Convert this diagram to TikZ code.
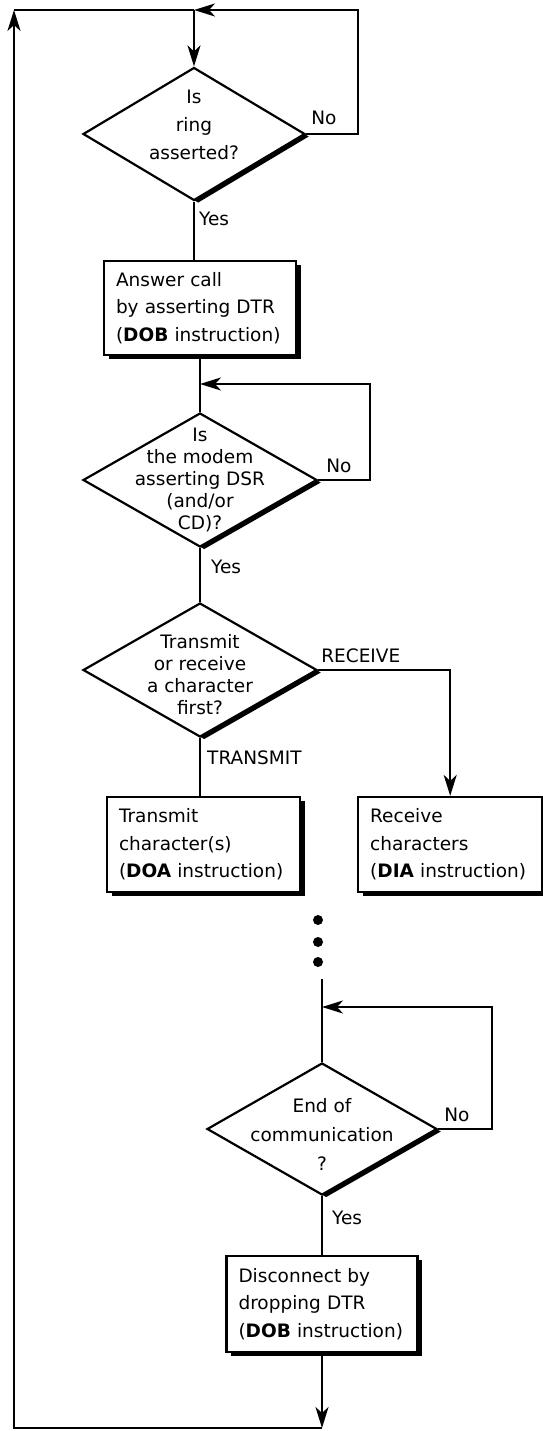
\documentclass[tikz,border=0pt]{standalone}
\usepackage{fontspec}
\setmainfont{DejaVu Sans}
\usetikzlibrary{shapes.geometric,arrows.meta,positioning,shadows}
\tikzstyle{decision} = [draw,line width=2.2pt,diamond,inner sep=0,fill=white,minimum width=234pt,minimum height=134pt,drop shadow={opacity=1,fill=black,shadow xshift=4.2pt,shadow yshift=-2.5pt}]
\tikzstyle{question} = [align=center,inner sep=0,font=\fontsize{18.5}{22}\selectfont]
\tikzstyle{process} = [draw,line width=2.2pt,rectangle,fill=white,inner xsep=12pt,align=left,font=\fontsize{18.5}{27.5}\selectfont,drop shadow={opacity=1,fill=black,shadow xshift=4.5pt,shadow yshift=-4pt}]
\tikzstyle{branch} = [anchor=base west,inner sep=0,font=\fontsize{18.5}{22}\selectfont]
\tikzstyle{wire} = [line width=2.2pt]
\tikzstyle{flow} = [wire,-{Stealth[length=21pt,width=13pt,inset=6pt]}]
\tikzstyle{dot} = [circle,fill,inner sep=0,minimum size=10pt]

\begin{document}
\begin{tikzpicture}[x=1pt,y=-1pt]
  \useasboundingbox (0,0) rectangle (542,1431);

  % wait for the ring, then answer
  \node[decision,minimum width=222pt,minimum height=133pt] (ring) at (194,134) {};
  \node[question,font=\fontsize{18.5}{28}\selectfont,yshift=9pt] (ringq) at (ring) {Is\\ring\\asserted?};
  \node[process,text width=168pt,minimum height=94pt] (answer) at (200,308) {Answer call\\by asserting DTR\\(\textbf{DOB} instruction)};

  % wait for the modem
  \node[decision] (dsr) at (200,480) {};
  \node[question] (dsrq) at (dsr) {Is\\the modem\\asserting DSR\\(and/or\\CD)?};

  % transmit or receive
  \node[decision] (txrx) at (200,670) {};
  \node[question,yshift=-5pt] (txrxq) at (txrx) {Transmit\\or receive\\a character\\first?};
  \node[process,text width=169pt,minimum height=95pt] (tx) at (203.5,844.5) {Transmit\\character(s)\\(\textbf{DOA} instruction)};
  \node[process,text width=160pt,minimum height=95pt,right=56pt of tx] (rx) {Receive\\characters\\(\textbf{DIA} instruction)};
  \foreach \y [count=\i] in {920,942,962}
    \node[dot] (dot\i) at (318,\y) {};

  % hang up
  \node[decision,minimum width=230pt,minimum height=132pt] (eoc) at (322,1129) {};
  \node[question,font=\fontsize{18.5}{29}\selectfont,yshift=-5pt] (eocq) at (eoc) {End of\\communication\\?};
  \node[process,text width=167pt,minimum height=96pt] (drop) at (322,1304) {Disconnect by\\dropping DTR\\(\textbf{DOB} instruction)};

  % corners of the loops
  \coordinate (tl) at (14,10);
  \coordinate (bl) at (14,1428);
  \coordinate (top) at (ring.north |- tl);
  \coordinate (back) at (drop.south |- bl);
  \coordinate (ringloop) at (358,10);
  \coordinate (dsrloop) at (370,384);
  \coordinate (eocin) at (322,979);
  \coordinate (eocloop) at (492,1007);

  \draw[flow] (top) -- (ring.north);
  \draw[flow] (ring.east) -| (ringloop) -- (top);
  \draw[wire] (ring.south) -- (ring.south |- answer.north);
  \draw[wire] (answer.south) -- (dsr.north);
  \draw[flow] (dsr.east) -| (dsrloop) -- (dsrloop -| dsr.north);
  \draw[wire] (dsr.south) -- (txrx.north);
  \draw[wire] (txrx.south) -- (txrx.south |- tx.north);
  \draw[flow] (txrx.east) -| (rx.north);
  \draw[wire] (eocin) -- (eoc.north);
  \draw[flow] (eoc.east) -| (eocloop) -- (eocloop -| eoc.north);
  \draw[wire] (eoc.south) -- (drop.north);
  \draw[flow] (drop.south) -- (back);
  \draw[flow] (back) -- (bl) -- (tl);
  \draw[wire] (tl) -- (top);

  % branch labels
  \node[branch] (ringno) at ([xshift=5pt,yshift=9pt]ring.east) {No};
  \node[branch] (ringyes) at ([xshift=5pt,yshift=-24pt]ring.south) {Yes};
  \node[branch] (dsrno) at ([xshift=8pt,yshift=8pt]dsr.east) {No};
  \node[branch] (dsryes) at ([xshift=11pt,yshift=-25pt]dsr.south) {Yes};
  \node[branch] (rxlbl) at ([xshift=3pt,yshift=8pt]txrx.east) {RECEIVE};
  \node[branch] (txlbl) at ([xshift=7pt,yshift=-26pt]txrx.south) {TRANSMIT};
  \node[branch] (eocno) at ([xshift=6pt,yshift=8pt]eoc.east) {No};
  \node[branch] (eocyes) at ([xshift=10pt,yshift=-28pt]eoc.south) {Yes};
\end{tikzpicture}
\end{document}
